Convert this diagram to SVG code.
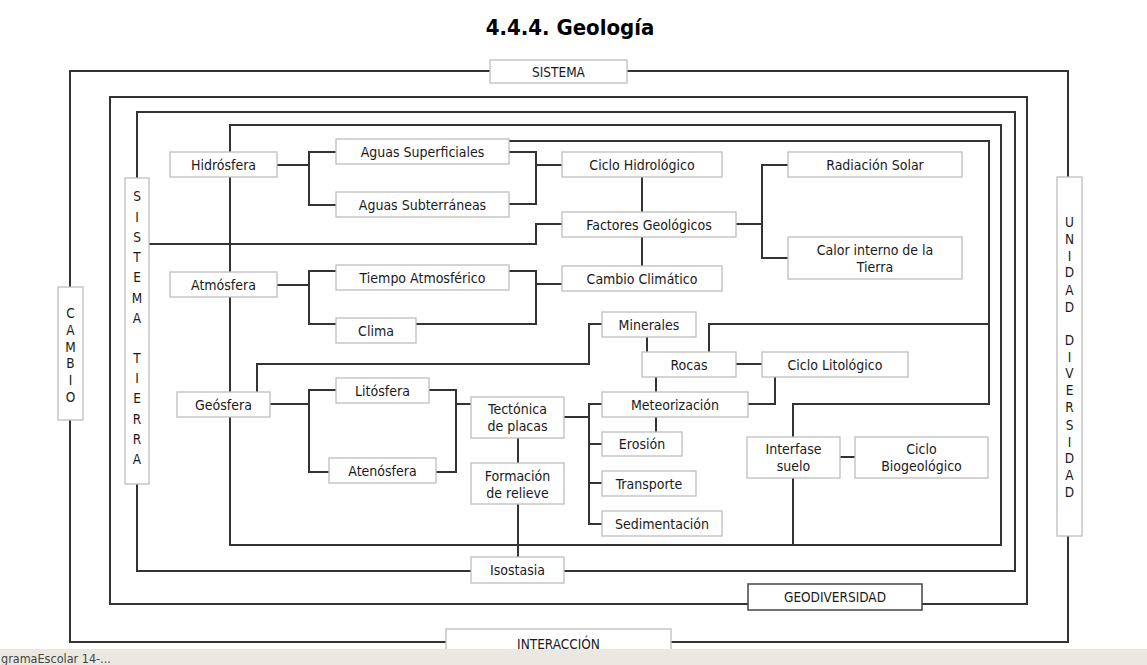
<svg xmlns="http://www.w3.org/2000/svg" width="1147" height="665" viewBox="0 0 1147 665">
<style>
text{font-family:"DejaVu Sans Condensed","DejaVu Sans",sans-serif;font-stretch:condensed;fill:#1a1a1a;text-anchor:middle}
.t{font-size:14px}
.v{font-size:13.5px}
.lbl{font-size:13.5px}
.title{font-size:22px;font-weight:bold;fill:#000}
.box{fill:#fff;stroke:#bdbdbd;stroke-width:1.3}
.dark{fill:#fff;stroke:#444;stroke-width:1.5}
.ln{fill:none;stroke:#333;stroke-width:2}
</style>
<rect x="0" y="0" width="1147" height="665" fill="#fff"/>
<text class="title" x="570" y="35">4.4.4. Geología</text>
<g id="connectors">
<path class="ln" d="M70,71 H1068 V642 H70 Z"/>
<path class="ln" d="M110,97 H1027 V604 H110 Z"/>
<path class="ln" d="M137,112 H1015 V571 H137 Z"/>
<path class="ln" d="M230,125 H1001 V545 H230 Z"/>
<path class="ln" d="M509,141 H989 V404 H793 V437 M793,478 V545"/>
<path class="ln" d="M989,324 H709 V352"/>
<path class="ln" d="M277,165 H309 M336,152 H309 V205 H336"/>
<path class="ln" d="M509,152 H536 V204 H509 M536,165 H562"/>
<path class="ln" d="M642,177 V212 M642,237 V266"/>
<path class="ln" d="M149,244 H536 V224 H562"/>
<path class="ln" d="M736,224 H762 M788,165 H762 V258 H788"/>
<path class="ln" d="M277,285 H309 M336,271 H309 V324 H336"/>
<path class="ln" d="M509,271 H536 V324 H416 M536,284 H562"/>
<path class="ln" d="M257,392 V364 H589 V324 H602"/>
<path class="ln" d="M270,404 H309 M336,390 H309 V472 H329"/>
<path class="ln" d="M429,390 H456 V472 H436 M456,404 H471"/>
<path class="ln" d="M518,438 V463 M518,504 V557"/>
<path class="ln" d="M564,417 H589 M602,404 H589 V524 H602 M589,444 H602 M589,483 H602"/>
<path class="ln" d="M647,337 V352 M656,377 V392 M656,417 V432"/>
<path class="ln" d="M736,364 H762 M748,404 H775 V377"/>
<path class="ln" d="M840,457 H855"/>
</g>
<g id="sistema"><rect class="box" x="490" y="60" width="137" height="23"/><text class="lbl" x="558.5" y="76.5">SISTEMA</text></g>
<g id="cambio"><rect class="box" x="58" y="287" width="25" height="133"/>
<text class="v" x="70.5" y="318">C</text><text class="v" x="70.5" y="335">A</text><text class="v" x="70.5" y="352">M</text><text class="v" x="70.5" y="368">B</text><text class="v" x="70.5" y="385">I</text><text class="v" x="70.5" y="402">O</text></g>
<g id="unidad-diversidad"><rect class="box" x="1057" y="177" width="25" height="359"/>
<text class="v" x="1069.5" y="227">U</text><text class="v" x="1069.5" y="244">N</text><text class="v" x="1069.5" y="261">I</text><text class="v" x="1069.5" y="277">D</text><text class="v" x="1069.5" y="295">A</text><text class="v" x="1069.5" y="312">D</text>
<text class="v" x="1069.5" y="345">D</text><text class="v" x="1069.5" y="362">I</text><text class="v" x="1069.5" y="378">V</text><text class="v" x="1069.5" y="395">E</text><text class="v" x="1069.5" y="412">R</text><text class="v" x="1069.5" y="430">S</text><text class="v" x="1069.5" y="447">I</text><text class="v" x="1069.5" y="463">D</text><text class="v" x="1069.5" y="480">A</text><text class="v" x="1069.5" y="497">D</text></g>
<g id="interaccion"><rect class="box" x="446" y="629" width="225" height="34"/><text class="lbl" x="558.5" y="649">INTERACCIÓN</text></g>
<g id="geodiversidad"><rect class="dark" x="748" y="584" width="174" height="26"/><text class="lbl" x="835" y="602">GEODIVERSIDAD</text></g>
<g id="isostasia"><rect class="box" x="471" y="557" width="93" height="26"/><text class="t" x="517.5" y="575">Isostasia</text></g>
<g id="sistema-tierra"><rect class="box" x="125" y="178" width="24" height="306"/>
<text class="v" x="137" y="201">S</text><text class="v" x="137" y="222">I</text><text class="v" x="137" y="242">S</text><text class="v" x="137" y="262">T</text><text class="v" x="137" y="282">E</text><text class="v" x="137" y="303">M</text><text class="v" x="137" y="323">A</text>
<text class="v" x="137" y="363">T</text><text class="v" x="137" y="383">I</text><text class="v" x="137" y="403">E</text><text class="v" x="137" y="424">R</text><text class="v" x="137" y="444">R</text><text class="v" x="137" y="464">A</text></g>
<g id="hidrosfera"><rect class="box" x="170" y="152" width="107" height="25"/><text class="t" x="223.5" y="169.5">Hidrósfera</text></g>
<g id="aguas-superficiales"><rect class="box" x="336" y="139" width="173" height="25"/><text class="t" x="422.5" y="156.5">Aguas Superficiales</text></g>
<g id="aguas-subterraneas"><rect class="box" x="336" y="192" width="173" height="25"/><text class="t" x="422.5" y="209.5">Aguas Subterráneas</text></g>
<g id="ciclo-hidrologico"><rect class="box" x="562" y="152" width="160" height="25"/><text class="t" x="642" y="169.5">Ciclo Hidrológico</text></g>
<g id="factores-geologicos"><rect class="box" x="562" y="212" width="174" height="25"/><text class="t" x="649" y="229.5">Factores Geológicos</text></g>
<g id="radiacion-solar"><rect class="box" x="788" y="152" width="174" height="25"/><text class="t" x="875" y="169.5">Radiación Solar</text></g>
<g id="calor-interno"><rect class="box" x="788" y="237" width="174" height="42"/><text class="t" x="875" y="255">Calor interno de la</text><text class="t" x="875" y="272">Tierra</text></g>
<g id="atmosfera"><rect class="box" x="170" y="272" width="107" height="25"/><text class="t" x="223.5" y="289.5">Atmósfera</text></g>
<g id="tiempo-atmosferico"><rect class="box" x="336" y="265" width="173" height="25"/><text class="t" x="422.5" y="282.5">Tiempo Atmosférico</text></g>
<g id="clima"><rect class="box" x="336" y="318" width="80" height="25"/><text class="t" x="376" y="335.5">Clima</text></g>
<g id="cambio-climatico"><rect class="box" x="562" y="266" width="160" height="25"/><text class="t" x="642" y="283.5">Cambio Climático</text></g>
<g id="geosfera"><rect class="box" x="177" y="392" width="93" height="25"/><text class="t" x="223.5" y="409.5">Geósfera</text></g>
<g id="litosfera"><rect class="box" x="336" y="378" width="93" height="25"/><text class="t" x="382.5" y="395.5">Litósfera</text></g>
<g id="atenosfera"><rect class="box" x="329" y="458" width="107" height="25"/><text class="t" x="382.5" y="475.5">Atenósfera</text></g>
<g id="tectonica"><rect class="box" x="471" y="397" width="93" height="41"/><text class="t" x="517.5" y="414">Tectónica</text><text class="t" x="517.5" y="431">de placas</text></g>
<g id="formacion-relieve"><rect class="box" x="471" y="463" width="93" height="41"/><text class="t" x="517.5" y="481">Formación</text><text class="t" x="517.5" y="498">de relieve</text></g>
<g id="minerales"><rect class="box" x="602" y="312" width="94" height="25"/><text class="t" x="649" y="329.5">Minerales</text></g>
<g id="rocas"><rect class="box" x="642" y="352" width="94" height="25"/><text class="t" x="689" y="369.5">Rocas</text></g>
<g id="ciclo-litologico"><rect class="box" x="762" y="352" width="146" height="25"/><text class="t" x="835" y="369.5">Ciclo Litológico</text></g>
<g id="meteorizacion"><rect class="box" x="602" y="392" width="146" height="25"/><text class="t" x="675" y="409.5">Meteorización</text></g>
<g id="erosion"><rect class="box" x="602" y="432" width="80" height="24"/><text class="t" x="642" y="449">Erosión</text></g>
<g id="transporte"><rect class="box" x="602" y="471" width="94" height="25"/><text class="t" x="649" y="488.5">Transporte</text></g>
<g id="sedimentacion"><rect class="box" x="602" y="511" width="120" height="25"/><text class="t" x="662" y="528.5">Sedimentación</text></g>
<g id="interfase-suelo"><rect class="box" x="747" y="437" width="93" height="41"/><text class="t" x="793.5" y="454">Interfase</text><text class="t" x="793.5" y="471">suelo</text></g>
<g id="ciclo-biogeologico"><rect class="box" x="855" y="437" width="133" height="41"/><text class="t" x="921.5" y="454">Ciclo</text><text class="t" x="921.5" y="471">Biogeológico</text></g>
<g id="taskbar"><rect x="0" y="649" width="1147" height="16" fill="#ebe8e2"/><text x="1" y="663" style="font-size:12.5px;text-anchor:start;fill:#444;font-stretch:normal">gramaEscolar 14-...</text></g>
</svg>
